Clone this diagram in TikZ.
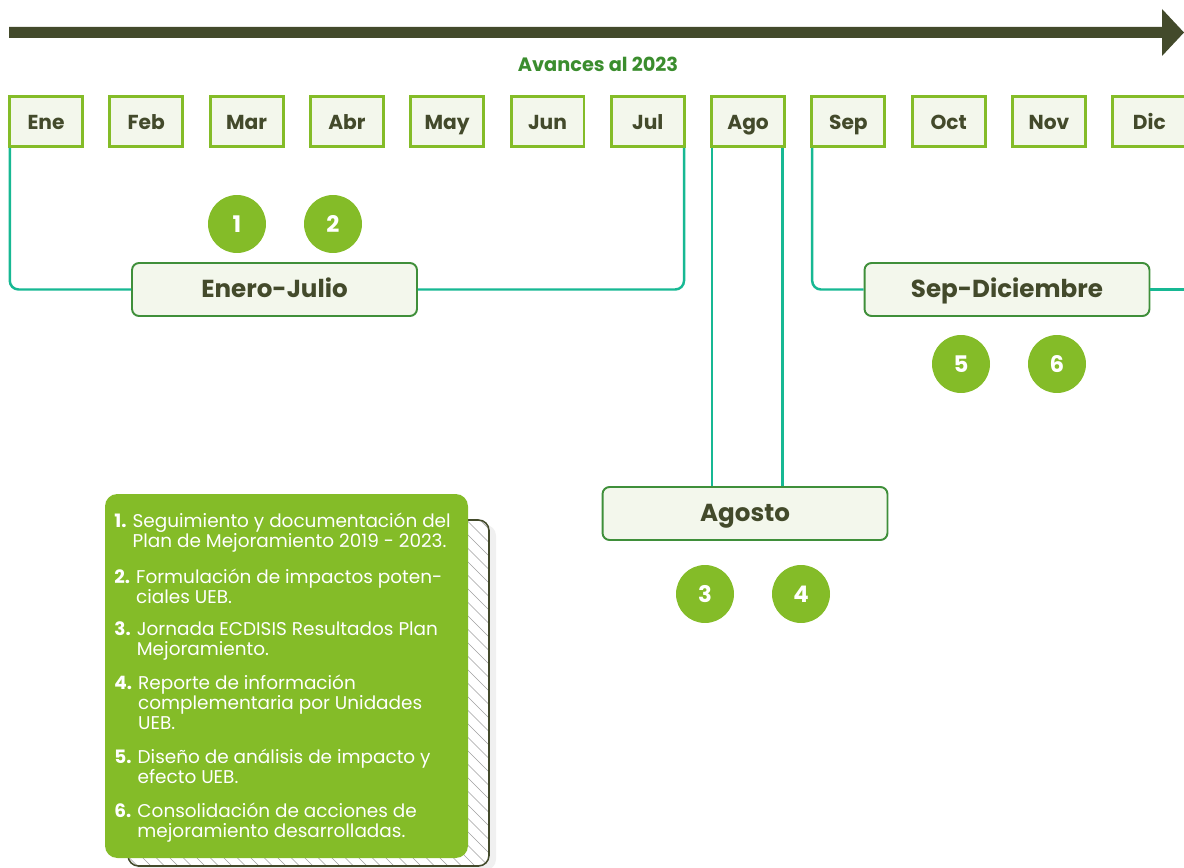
\documentclass[tikz,border=0pt]{standalone}
\usepackage{fontspec}
\setmainfont{Poppins}
\usetikzlibrary{positioning}
\definecolor{tlolive}{HTML}{434A2B}
\definecolor{tllime}{HTML}{84BC28}
\definecolor{tlpaper}{HTML}{F3F7EC}
\definecolor{tlleaf}{HTML}{3F8F3A}
\definecolor{tlteal}{HTML}{17B893}
\definecolor{tlgreen}{HTML}{3B8D2E}
\tikzset{
  month/.style={draw=tllime,line width=1.7pt,fill=tlpaper,minimum width=1.46cm,minimum height=1cm,inner sep=0pt,text height=1.78ex,text depth=0.1ex,text=tlolive,font=\bfseries\fontsize{11.5}{13}\selectfont},
  period/.style={draw=tlleaf,line width=1.1pt,rounded corners=4pt,fill=tlpaper,minimum width=5.7cm,minimum height=1.06cm,text height=1.67ex,text depth=0.1ex,text=tlolive,font=\bfseries\fontsize{14}{16}\selectfont},
  num/.style={circle,fill=tllime,minimum size=1.16cm,inner sep=0pt,text=white,font=\bfseries\fontsize{13}{15}\selectfont},
  bracket/.style={tlteal,line width=1.4pt,rounded corners=5pt},
  item/.style={anchor=base west,inner sep=0pt,text=white,font=\fontsize{10.5}{11.66}\selectfont}
}
\begin{document}
\begin{tikzpicture}[x=0.02cm,y=-0.02cm]
    \useasboundingbox (0,0) rectangle (1184,868);
    \fill[tlolive] (9,27) -- (1162,27) -- (1162,9) -- (1184,32.5) -- (1162,56) -- (1162,38) -- (9,38) -- cycle;
    \node[text=tlgreen,font=\bfseries\fontsize{11}{13}\selectfont] (avances) at (598,64) {Avances al 2023};
    \foreach \m [count=\i from 0] in {Ene,Feb,Mar,Abr,May,Jun,Jul,Ago,Sep,Oct,Nov,Dic}
        \node[month] (m-\m) at ({46+100.3*\i},121.5) {\m};
    \node[period] (ej) at (274.5,289.5) {Enero-Julio};
    \node[period] (ago) at (745,513.5) {Agosto};
    \node[period] (sd) at (1007,289.5) {Sep-Diciembre};
    \coordinate (sd-end) at (1190,289.5);
    \draw[bracket] ([xshift=1pt]m-Ene.south west) |- (ej.west);
    \draw[bracket] (ej.east) -| ([xshift=-1pt]m-Jul.south east);
    \draw[bracket] ([xshift=1pt]m-Ago.south west) -- ([xshift=1pt]m-Ago.south west |- ago.north);
    \draw[bracket] ([xshift=-2pt]m-Ago.south east) -- ([xshift=-2pt]m-Ago.south east |- ago.north);
    \draw[bracket] ([xshift=1pt]m-Sep.south west) |- (sd.west);
    \draw[bracket] (sd.east) -- (sd-end);
    \node[num] (n1) at (237,224) {1};
    \node[num] (n2) at (333,224) {2};
    \node[num] (n3) at (705,594) {3};
    \node[num] (n4) at (801,594) {4};
    \node[num] (n5) at (961,364) {5};
    \node[num] (n6) at (1057,364) {6};
    \fill[gray!12,rounded corners=6pt] (133,525) rectangle (496,870);
    \begin{scope}
        \clip[rounded corners=6pt] (128,520) rectangle (489,866);
        \fill[white] (128,520) rectangle (489,866);
        \foreach \k in {0,...,54}
            \draw[gray!75,line width=0.4pt] ({-222+13.5*\k},520) -- ++(350,350);
    \end{scope}
    \draw[tlolive,line width=0.9pt,rounded corners=6pt] (128,520) rectangle (489,866);
    \fill[tllime,rounded corners=7pt] (105,494) rectangle (468,858);
    \node[item] (it1) at (114,527) {\begin{tabular}[t]{@{}l@{\hspace{3.5pt}}l@{}}\textbf{1.} & Seguimiento y documentación del\\ & Plan de Mejoramiento 2019 - 2023.\end{tabular}};
    \node[item] (it2) at (114,583) {\begin{tabular}[t]{@{}l@{\hspace{3.5pt}}l@{}}\textbf{2.} & Formulación de impactos poten-\\ & ciales UEB.\end{tabular}};
    \node[item] (it3) at (114,635) {\begin{tabular}[t]{@{}l@{\hspace{3.5pt}}l@{}}\textbf{3.} & Jornada ECDISIS Resultados Plan\\ & Mejoramiento.\end{tabular}};
    \node[item] (it4) at (114,689) {\begin{tabular}[t]{@{}l@{\hspace{3.5pt}}l@{}}\textbf{4.} & Reporte de información\\ & complementaria por Unidades\\ & UEB.\end{tabular}};
    \node[item] (it5) at (114,763) {\begin{tabular}[t]{@{}l@{\hspace{3.5pt}}l@{}}\textbf{5.} & Diseño de análisis de impacto y\\ & efecto UEB.\end{tabular}};
    \node[item] (it6) at (114,817) {\begin{tabular}[t]{@{}l@{\hspace{3.5pt}}l@{}}\textbf{6.} & Consolidación de acciones de\\ & mejoramiento desarrolladas.\end{tabular}};
\end{tikzpicture}
\end{document}
